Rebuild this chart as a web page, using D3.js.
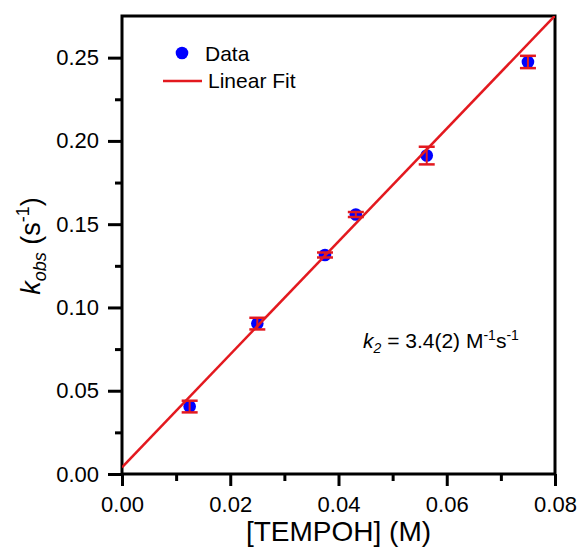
<!DOCTYPE html>
<html>
<head>
<meta charset="utf-8">
<script src="https://cdn.jsdelivr.net/npm/d3@7"></script>
<style>
  body { margin: 0; background: #fff; }
  text { font-family: Arial, "Liberation Sans", sans-serif; fill: #000; }
</style>
</head>
<body>
<svg width="578" height="551"></svg>
<script>
// data
var conc = [0.0125, 0.025, 0.0375, 0.0432, 0.0563, 0.075];      // [TEMPOH] (M)
var kobs = [0.0405, 0.0903, 0.1315, 0.1558, 0.1912, 0.2474];    // s^-1
var kerr = [0.0035, 0.0035, 0.0015, 0.0015, 0.0053, 0.0037];
var fitSlope = 3.39;      // k2
var fitIntercept = 0.004;
var xTicks = [0, 0.02, 0.04, 0.06, 0.08];
var xMinor = [0.01, 0.03, 0.05, 0.07];
var yTicks = [0, 0.05, 0.10, 0.15, 0.20, 0.25];
var yMinor = [0.025, 0.075, 0.125, 0.175, 0.225];

var box = { left: 122, right: 555, top: 16, bottom: 474 };
var blue = "#0000ff", red = "#e3191f";

var svg = d3.select("svg");
var x = d3.scaleLinear().domain([0, 0.08]).range([box.left, box.right]);
var y = d3.scaleLinear().domain([0, 0.275]).range([box.bottom, box.top]);

// minor ticks first (no labels)
svg.append("g").attr("transform", "translate(0," + box.bottom + ")")
  .call(d3.axisBottom(x).tickValues(xMinor).tickSize(7).tickSizeOuter(0).tickFormat(""))
  .call(function(g){ g.select(".domain").remove(); g.selectAll("line").attr("stroke-width", 3); });
svg.append("g").attr("transform", "translate(" + box.left + ",0)")
  .call(d3.axisLeft(y).tickValues(yMinor).tickSize(7).tickSizeOuter(0).tickFormat(""))
  .call(function(g){ g.select(".domain").remove(); g.selectAll("line").attr("stroke-width", 3); });

// major ticks
svg.append("g").attr("transform", "translate(0," + box.bottom + ")")
  .call(d3.axisBottom(x).tickValues(xTicks).tickSize(12).tickPadding(10).tickFormat(d3.format(".2f")))
  .call(function(g){
    g.select(".domain").remove();
    g.selectAll("line").attr("stroke-width", 3);
    g.selectAll("text").attr("font-size", 22).attr("font-family", "Arial, 'Liberation Sans'");
  });
svg.append("g").attr("transform", "translate(" + box.left + ",0)")
  .call(d3.axisLeft(y).tickValues(yTicks).tickSize(14).tickPadding(9).tickFormat(d3.format(".2f")))
  .call(function(g){
    g.select(".domain").remove();
    g.selectAll("line").attr("stroke-width", 3);
    g.selectAll("text").attr("font-size", 22).attr("font-family", "Arial, 'Liberation Sans'");
  });

// frame
svg.append("rect")
  .attr("x", box.left).attr("y", box.top)
  .attr("width", box.right - box.left).attr("height", box.bottom - box.top)
  .attr("fill", "none").attr("stroke", "#000").attr("stroke-width", 3);

// clip for the fit line
svg.append("clipPath").attr("id", "plotclip").append("rect")
  .attr("x", box.left).attr("y", box.top)
  .attr("width", box.right - box.left).attr("height", box.bottom - box.top);

var pts = conc.map(function(c, i){ return { x: c, y: kobs[i], e: kerr[i] }; });

// data markers
svg.append("g").selectAll("circle").data(pts).enter().append("circle")
  .attr("cx", function(d){ return x(d.x); })
  .attr("cy", function(d){ return y(d.y); })
  .attr("r", 6.3)
  .attr("fill", blue);

// error bars on top
var eb = svg.append("g").attr("stroke", red).attr("stroke-width", 2);
eb.selectAll(".v").data(pts).enter().append("line")
  .attr("x1", function(d){ return x(d.x); }).attr("x2", function(d){ return x(d.x); })
  .attr("y1", function(d){ return y(d.y - d.e); }).attr("y2", function(d){ return y(d.y + d.e); });
[-1, 1].forEach(function(s){
  eb.selectAll(".c" + s).data(pts).enter().append("line")
    .attr("x1", function(d){ return x(d.x) - 8; }).attr("x2", function(d){ return x(d.x) + 8; })
    .attr("y1", function(d){ return y(d.y + s * d.e); }).attr("y2", function(d){ return y(d.y + s * d.e); })
    .attr("stroke-width", 2.5);
});

// linear fit
var fitX = [0, 0.08];
svg.append("path")
  .datum(fitX)
  .attr("clip-path", "url(#plotclip)")
  .attr("d", d3.line().x(function(d){ return x(d); }).y(function(d){ return y(fitIntercept + fitSlope * d); }))
  .attr("fill", "none").attr("stroke", red).attr("stroke-width", 2.5);

// legend
svg.append("circle").attr("cx", 182).attr("cy", 53).attr("r", 6.3).attr("fill", blue);
svg.append("text").attr("x", 205).attr("y", 61).attr("font-size", 21).text("Data");
svg.append("line").attr("x1", 163).attr("x2", 202).attr("y1", 81).attr("y2", 81)
  .attr("stroke", red).attr("stroke-width", 2.5);
svg.append("text").attr("x", 208).attr("y", 88).attr("font-size", 21).text("Linear Fit");

// annotation
var ann = svg.append("text").attr("x", 363).attr("y", 348).attr("font-size", 21);
ann.append("tspan").attr("font-style", "italic").text("k");
ann.append("tspan").attr("font-size", 14).attr("font-style", "italic").attr("dy", 5).text("2");
ann.append("tspan").attr("dy", -5).text(" = 3.4(2) M");
ann.append("tspan").attr("font-size", 14).attr("dy", -8).text("-1");
ann.append("tspan").attr("dy", 8).text("s");
ann.append("tspan").attr("font-size", 14).attr("dy", -8).text("-1");

// axis titles
svg.append("text").attr("x", (box.left + box.right) / 2).attr("y", 541)
  .attr("text-anchor", "middle").attr("font-size", 28).text("[TEMPOH] (M)");

var yt = svg.append("text")
  .attr("transform", "translate(40,246) rotate(-90)")
  .attr("text-anchor", "middle").attr("font-size", 27);
yt.append("tspan").attr("font-style", "italic").text("k");
yt.append("tspan").attr("font-size", 18).attr("font-style", "italic").attr("dy", 6).text("obs");
yt.append("tspan").attr("dy", -6).text(" (s");
yt.append("tspan").attr("font-size", 18).attr("dy", -11).text("-1");
yt.append("tspan").attr("dy", 11).text(")");
</script>
</body>
</html>
